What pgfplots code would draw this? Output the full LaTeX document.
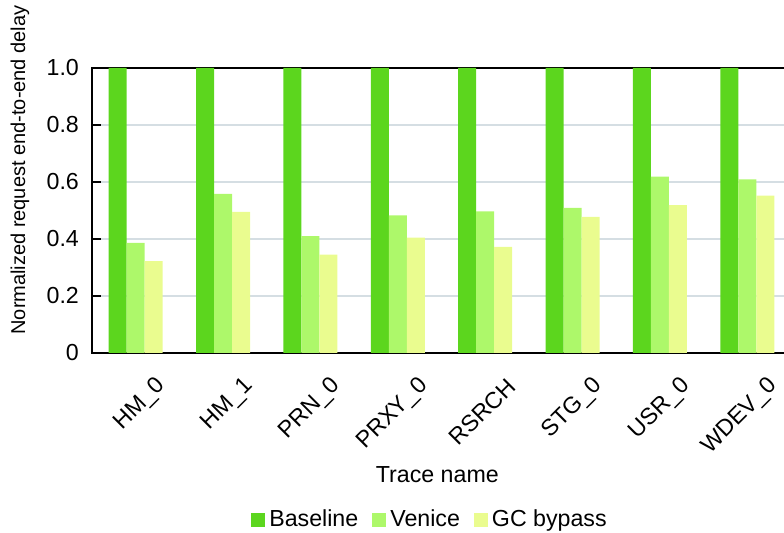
\documentclass[border=0pt]{standalone}
\usepackage{fontspec}
\setmainfont{Liberation Sans}
\usepackage{pgfplots}
\pgfplotsset{compat=1.18}
\definecolor{cBase}{RGB}{92,214,30}
\definecolor{cVen}{RGB}{173,248,106}
\definecolor{cGC}{RGB}{234,252,143}
\definecolor{cGrid}{RGB}{213,222,227}
\newcommand{\fs}{\fontsize{11.6}{13.9}\selectfont}
\begin{document}
\fs
\begin{tikzpicture}
\begin{axis}[
  at={(0pt,0pt)}, anchor=south west,
  scale only axis,
  width=349.5pt, height=142.5pt,
  ybar=0pt, bar width=0.206,
  xmin=-0.5, xmax=7.5,
  ymin=0, ymax=1,
  xtick={0,1,2,3,4,5,6,7},
  xticklabels={HM\_0,HM\_1,PRN\_0,PRXY\_0,RSRCH,STG\_0,USR\_0,WDEV\_0},
  xtick style={draw=none},
  xticklabel style={xshift=16pt, yshift=-12pt, rotate=45, anchor=east, font=\fs},
  ytick={0,0.2,0.4,0.6,0.8,1.0},
  yticklabels={0,0.2,0.4,0.6,0.8,1.0},
  ytick pos=left,
  yticklabel style={xshift=-2.5pt, font=\fs},
  tick align=inside,
  major tick length=4.5pt,
  ytick style={black, line width=0.8pt},
  ymajorgrids,
  grid style={cGrid, line width=0.8pt},
  axis line style={black, line width=1pt},
  ylabel={Normalized request end-to-end delay},
  every axis y label/.style={at={(axis description cs:-0.103,0.642)}, rotate=90, anchor=center, font=\fontsize{10}{12}\selectfont},
  xlabel={Trace name},
  every axis x label/.style={at={(axis description cs:0.494,0)}, anchor=center, yshift=-61pt, font=\fs},
  legend columns=3,
  legend style={draw=none, fill=none, at={(axis description cs:0.485,0)}, anchor=center, yshift=-83.5pt,
    /tikz/every even column/.append style={column sep=5pt}, font=\fs},
  legend image code/.code={\fill[#1] (0pt,-3.5pt) rectangle (7pt,3.5pt);},
]
\addplot[fill=cBase, draw=none] coordinates {(0,1) (1,1) (2,1) (3,1) (4,1) (5,1) (6,1) (7,1)};
\addplot[fill=cVen, draw=none] coordinates {(0,0.386) (1,0.558) (2,0.41) (3,0.483) (4,0.497) (5,0.509) (6,0.619) (7,0.609)};
\addplot[fill=cGC, draw=none] coordinates {(0,0.322) (1,0.495) (2,0.345) (3,0.405) (4,0.372) (5,0.478) (6,0.519) (7,0.552)};
\legend{Baseline,Venice,GC bypass}
\end{axis}
\pgfresetboundingbox
\useasboundingbox (-46pt,-90pt) rectangle (346pt,176.5pt);
\end{tikzpicture}
\end{document}
